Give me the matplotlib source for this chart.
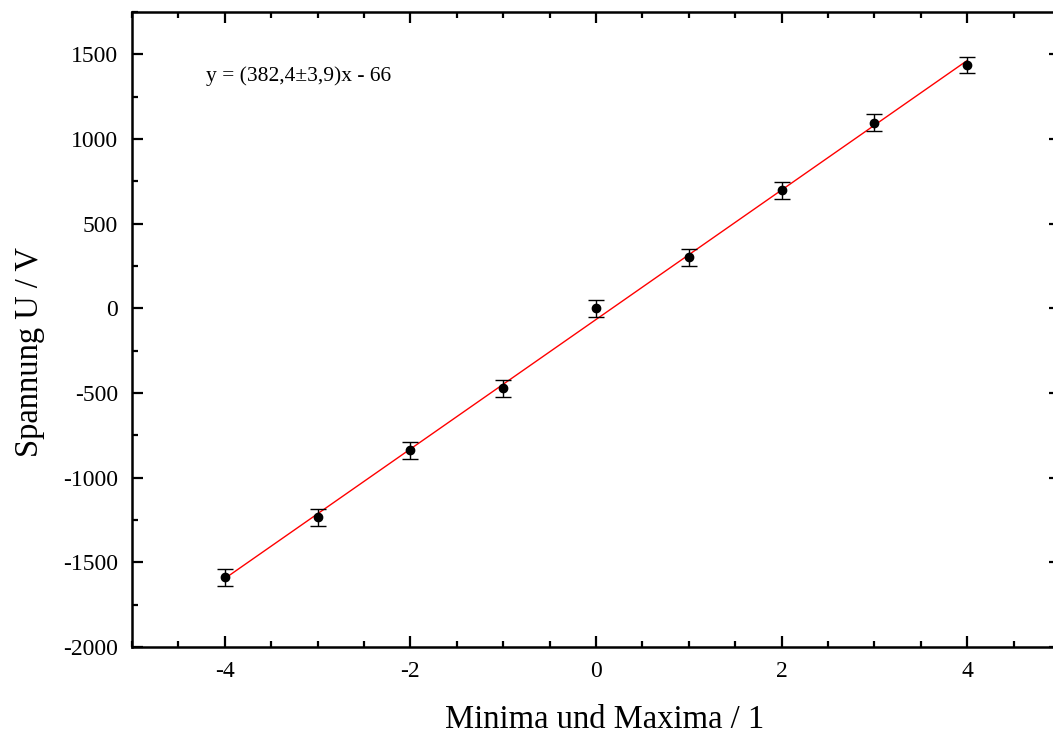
import matplotlib.pyplot as plt
import numpy as np
from matplotlib.ticker import MultipleLocator

plt.rcParams['font.family'] = ['Liberation Serif', 'DejaVu Serif']
plt.rcParams['axes.unicode_minus'] = False

# Messwerte
ordnung = [-4, -3, -2, -1, 0, 1, 2, 3, 4]
spannung = [-1587, -1235, -837, -471, 0, 302, 697, 1095, 1437]
fehler = [50, 50, 50, 50, 50, 50, 50, 50, 50]

# Fitparameter
steigung = 382.4
achsenabschnitt = -66

fig = plt.figure(figsize=(10.53, 7.33), dpi=100)
ax = fig.add_axes([132 / 1053, 86 / 733, 928 / 1053, 635 / 733])

x_fit = np.array([min(ordnung), max(ordnung)])
ax.plot(x_fit, steigung * x_fit + achsenabschnitt, color='red', lw=1, zorder=2)
ax.errorbar(ordnung, spannung, yerr=fehler, fmt='o', color='black', ms=6,
            ecolor='black', elinewidth=1, capsize=6, capthick=1, zorder=3)

ax.set_xlim(-5, 5)
ax.set_ylim(-2000, 1750)
ax.xaxis.set_major_locator(MultipleLocator(2))
ax.xaxis.set_minor_locator(MultipleLocator(0.5))
ax.yaxis.set_major_locator(MultipleLocator(500))
ax.yaxis.set_minor_locator(MultipleLocator(250))
ax.tick_params(which='both', direction='in', top=True, right=True, width=1.6,
               labelsize=17)
ax.tick_params(which='major', length=8, pad=10)
ax.tick_params(which='minor', length=4.5)
for s in ax.spines.values():
    s.set_linewidth(1.8)

ax.set_xlabel('Minima und Maxima / 1', fontsize=23.5, labelpad=16)
ax.set_ylabel('Spannung U / V', fontsize=23.5, labelpad=13)
ax.xaxis.label.set_x(0.509)
ax.yaxis.label.set_y(0.465)
ax.text(-4.2, 1340, 'y = (382,4±3,9)x - 66', fontsize=15.5)

fig.savefig('out.png', dpi=100)
